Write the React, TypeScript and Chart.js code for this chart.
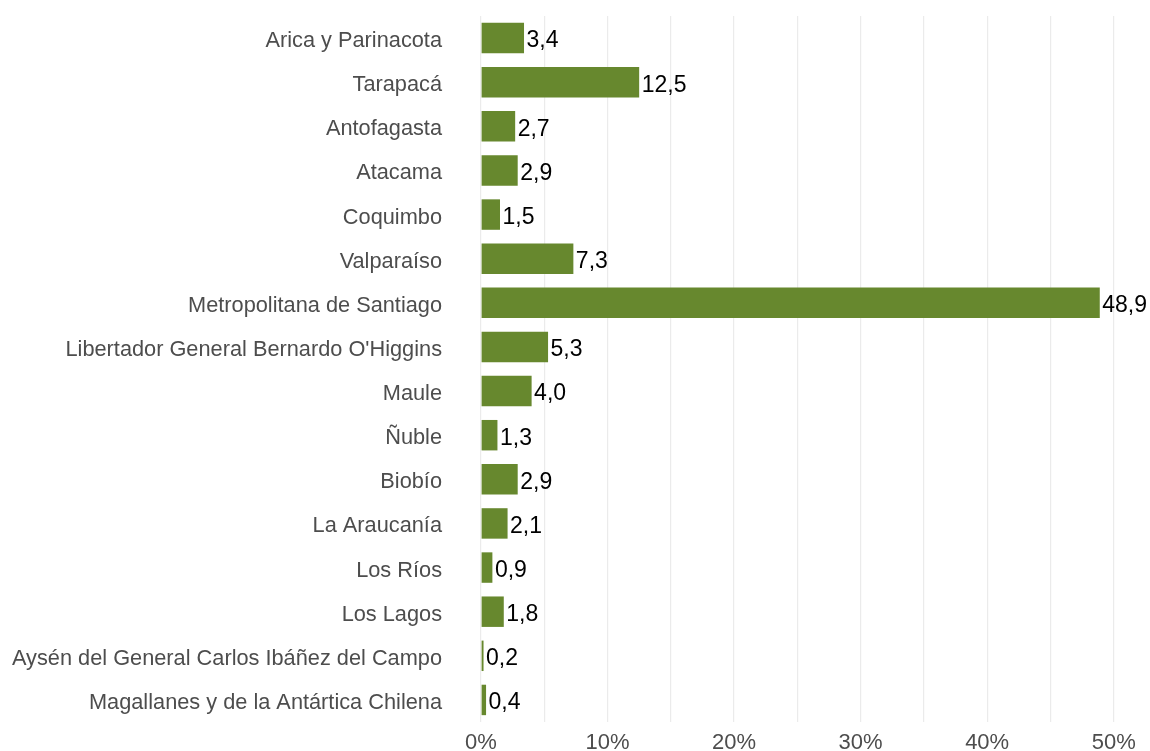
import React, { useEffect, useRef } from "react";
import { Chart, registerables } from "chart.js";

Chart.register(...registerables);

const categories = [
  "Arica y Parinacota",
  "Tarapacá",
  "Antofagasta",
  "Atacama",
  "Coquimbo",
  "Valparaíso",
  "Metropolitana de Santiago",
  "Libertador General Bernardo O'Higgins",
  "Maule",
  "Ñuble",
  "Biobío",
  "La Araucanía",
  "Los Ríos",
  "Los Lagos",
  "Aysén del General Carlos Ibáñez del Campo",
  "Magallanes y de la Antártica Chilena",
];

const values = [3.4, 12.5, 2.7, 2.9, 1.5, 7.3, 48.9, 5.3, 4.0, 1.3, 2.9, 2.1, 0.9, 1.8, 0.2, 0.4];

const gridValues = [0, 5, 10, 15, 20, 25, 30, 35, 40, 45, 50];
const labeledTicks = [0, 10, 20, 30, 40, 50];

const FONT = "'Liberation Sans', Arial, sans-serif";

const valueLabelPlugin = {
  id: "valueLabels",
  afterDatasetsDraw(chart: any) {
    const ctx = chart.ctx;
    const meta = chart.getDatasetMeta(0);
    ctx.save();
    ctx.font = `23px ${FONT}`;
    ctx.fillStyle = "#000000";
    ctx.textAlign = "left";
    ctx.textBaseline = "middle";
    meta.data.forEach((bar: any, i: number) => {
      const txt = values[i].toFixed(1).replace(".", ",");
      ctx.fillText(txt, bar.x + 2.5, bar.y + 3);
    });
    ctx.restore();
  },
};

export default function App() {
  const ref = useRef<HTMLCanvasElement | null>(null);

  useEffect(() => {
    document.body.style.margin = "0";
    if (!ref.current) return;
    const chart = new Chart(ref.current, {
      type: "bar",
      data: {
        labels: categories,
        datasets: [
          {
            data: values,
            backgroundColor: "#67882e",
            borderWidth: 0,
            barPercentage: 0.69,
            categoryPercentage: 1,
          },
        ],
      },
      options: {
        indexAxis: "y",
        animation: false,
        responsive: false,
        maintainAspectRatio: false,
        layout: { padding: { top: 16, right: 11, left: 0, bottom: 0 } },
        plugins: {
          legend: { display: false },
          tooltip: { enabled: false },
        },
        scales: {
          x: {
            min: 0,
            max: 52,
            afterBuildTicks: (scale: any) => {
              scale.ticks = gridValues.map((v) => ({ value: v }));
            },
            afterFit: (scale: any) => {
              scale.height = 29;
            },
            border: { display: false },
            grid: {
              color: "#ebebeb",
              lineWidth: 1.2,
              drawTicks: true,
              tickLength: 8,
              tickColor: "rgba(0,0,0,0)",
            },
            ticks: {
              autoSkip: false,
              maxRotation: 0,
              padding: 0,
              color: "#4d4d4d",
              font: { family: FONT, size: 22 },
              callback: (v: any) => (labeledTicks.includes(Number(v)) ? `${v}%` : ""),
            },
          },
          y: {
            afterFit: (scale: any) => {
              scale.width = 481;
            },
            border: { display: false },
            grid: {
              display: true,
              color: "rgba(0,0,0,0)",
              drawTicks: true,
              tickLength: 39,
              tickColor: "rgba(0,0,0,0)",
            },
            ticks: {
              autoSkip: false,
              padding: 0,
              labelOffset: 3,
              color: "#4d4d4d",
              font: { family: FONT, size: 21.75 },
            },
          },
        },
      },
      plugins: [valueLabelPlugin],
    });
    return () => chart.destroy();
  }, []);

  return (
    <div style={{ width: 1150, height: 751, position: "relative", background: "#ffffff" }}>
      <canvas ref={ref} width={1150} height={751} style={{ display: "block" }} />
    </div>
  );
}
